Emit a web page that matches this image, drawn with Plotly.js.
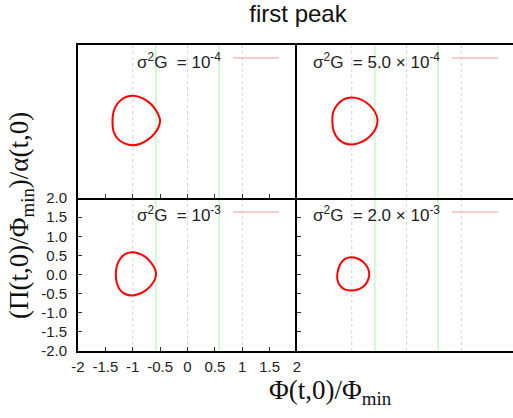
<!DOCTYPE html>
<html>
<head>
<meta charset="utf-8">
<script src="https://cdn.plot.ly/plotly-3.0.1.min.js"></script>
<style>
  html, body { margin: 0; padding: 0; background: #fff; }
  #chart { width: 513px; height: 418px; }
</style>
</head>
<body>
<div id="chart"></div>
<script>
// Phase-space orbits (field vs. momentum) around the minimum at Φ = -Φ_min,
// one panel per coupling σ²G.

// Reference lines: minima / maximum of the potential, and its inflection points
const potentialExtrema = [-1, 0, 1];
const inflectionPoints = [-0.577, 0.577];

// Tick labels
const xTickVals = [-2, -1.5, -1, -0.5, 0, 0.5, 1, 1.5, 2];
const xTickText = ['-2', '-1.5', '-1', '-0.5', '0', '0.5', '1', '1.5', '2'];
const yTickVals = [-2, -1.5, -1, -0.5, 0, 0.5, 1, 1.5, 2];
const yTickText = ['-2.0', '-1.5', '-1.0', '-0.5', '0.0', '0.5', '1.0', '1.5', '2.0'];

// Panel labels
const couplingLabels = [
  'σ<sup>2</sup>G\u00a0 = 10<sup>-4</sup>',
  'σ<sup>2</sup>G\u00a0 = 5.0 × 10<sup>-4</sup>',
  'σ<sup>2</sup>G\u00a0 = 10<sup>-3</sup>',
  'σ<sup>2</sup>G\u00a0 = 2.0 × 10<sup>-3</sup>'
];

// Orbits: Φ(t,0)/Φ_min and (Π(t,0)/Φ_min)/α(t,0)
const phiG1e4 = [-1.00, -0.86, -0.72, -0.61, -0.53, -0.50, -0.53, -0.61, -0.73, -0.86, -1.00, -1.14, -1.27, -1.35, -1.37, -1.35, -1.28, -1.16, -1.00];
const piG1e4  = [ 0.67,  0.63,  0.52,  0.36,  0.17,  0.02, -0.15, -0.33, -0.48, -0.58, -0.62, -0.58, -0.46, -0.26,  0.00,  0.26,  0.47,  0.62,  0.67];

const phiG5e4 = [-1.00, -0.86, -0.73, -0.62, -0.55, -0.53, -0.55, -0.62, -0.73, -0.86, -1.00, -1.13, -1.25, -1.33, -1.355, -1.34, -1.27, -1.15, -1.00];
const piG5e4  = [ 0.63,  0.59,  0.49,  0.34,  0.17,  0.03, -0.14, -0.31, -0.46, -0.56, -0.60, -0.57, -0.45, -0.25,  0.00,  0.24,  0.43,  0.58,  0.63];

const phiG1e3 = [-1.02, -0.89, -0.77, -0.67, -0.60, -0.575, -0.60, -0.67, -0.77, -0.89, -1.02, -1.14, -1.23, -1.29, -1.31, -1.29, -1.23, -1.14, -1.02];
const piG1e3  = [ 0.58,  0.55,  0.46,  0.32,  0.16,  0.02, -0.14, -0.29, -0.42, -0.51, -0.55, -0.51, -0.41, -0.22,  0.00,  0.22,  0.41,  0.53,  0.58];

const phiG2e3 = [-1.02, -0.90, -0.79, -0.71, -0.68, -0.71, -0.79, -0.90, -1.02, -1.13, -1.21, -1.26, -1.26, -1.21, -1.13, -1.02];
const piG2e3  = [ 0.45,  0.42,  0.33,  0.18,  0.01, -0.17, -0.32, -0.40, -0.42, -0.39, -0.30, -0.15,  0.05,  0.27,  0.40,  0.45];

// ---- layout geometry (pixels of a 513 x 418 page) ----
const W = 513, H = 418;
const px = v => v / W;          // horizontal pixel -> paper
const py = v => 1 - v / H;      // vertical pixel -> paper

const leftX0 = 78, midX = 297, rightX1 = W;
const topY0 = 45, midY = 198, botY1 = 351;
const unitPx = (midX - leftX0) / 4;                   // pixels per unit on the Φ axis
const rightRangeMax = -2 + (rightX1 - midX) / unitPx; // right panels run off the page edge

const tickFont = { family: 'Liberation Sans, Arial, sans-serif', size: 15, color: '#222' };
const serif = 'Liberation Serif, Times New Roman, serif';

function xAxis(domain, range, opts) {
  return Object.assign({
    domain: domain, range: range, fixedrange: true,
    showgrid: false, zeroline: false,
    showline: true, linecolor: '#000', linewidth: 2, mirror: false,
    tickvals: xTickVals, ticktext: xTickText,
    ticks: '', ticklen: 4, tickwidth: 1, tickcolor: '#333',
    showticklabels: false, tickfont: tickFont
  }, opts || {});
}
function yAxis(domain, opts) {
  return Object.assign({
    domain: domain, range: [-2, 2], fixedrange: true,
    showgrid: false, zeroline: false,
    showline: true, linecolor: '#000', linewidth: 2, mirror: false,
    tickvals: yTickVals, ticktext: yTickText,
    ticks: '', ticklen: 4, tickwidth: 1, tickcolor: '#333',
    showticklabels: false, tickfont: tickFont
  }, opts || {});
}

const xLeft = [px(leftX0), px(midX)];
const xRight = [px(midX), 1];
const yTop = [py(midY), py(topY0)];
const yBot = [py(botY1), py(midY)];

const panels = [
  { ax: '',  phi: phiG1e4, pi: piG1e4, label: couplingLabels[0] },
  { ax: '2', phi: phiG5e4, pi: piG5e4, label: couplingLabels[1] },
  { ax: '3', phi: phiG1e3, pi: piG1e3, label: couplingLabels[2] },
  { ax: '4', phi: phiG2e3, pi: piG2e3, label: couplingLabels[3] }
];

const traces = panels.map(p => ({
  type: 'scatter', mode: 'lines',
  x: p.phi, y: p.pi,
  xaxis: 'x' + p.ax, yaxis: 'y' + p.ax,
  line: { color: '#ff0000', width: 2, shape: 'spline', smoothing: 1 },
  hoverinfo: 'skip', showlegend: false
}));

const shapes = [];
panels.forEach(p => {
  potentialExtrema.forEach(v => shapes.push({
    type: 'line', layer: 'below',
    xref: 'x' + p.ax, yref: 'y' + p.ax + ' domain',
    x0: v, x1: v, y0: 0, y1: 1,
    line: { color: 'rgb(208,208,248)', width: 1, dash: 'dot' }
  }));
  inflectionPoints.forEach(v => shapes.push({
    type: 'line', layer: 'below',
    xref: 'x' + p.ax, yref: 'y' + p.ax + ' domain',
    x0: v, x1: v, y0: 0, y1: 1,
    line: { color: 'rgb(175,240,175)', width: 1 }
  }));
});

// key samples and labels, one per panel
const keySpots = [
  { x0: 233, x1: 279, y: 58,  tx: 223, ty: 61 },
  { x0: 452, x1: 498, y: 58,  tx: 442, ty: 61 },
  { x0: 233, x1: 279, y: 212, tx: 223, ty: 214 },
  { x0: 452, x1: 498, y: 212, tx: 442, ty: 214 }
];
const annotations = [];
keySpots.forEach((k, i) => {
  shapes.push({
    type: 'line', xref: 'paper', yref: 'paper',
    x0: px(k.x0), x1: px(k.x1), y0: py(k.y), y1: py(k.y),
    line: { color: 'rgb(255,150,150)', width: 1 }
  });
  annotations.push({
    xref: 'paper', yref: 'paper', x: px(k.tx), y: py(k.ty),
    xanchor: 'right', yanchor: 'middle', showarrow: false,
    text: panels[i].label,
    font: { family: 'Liberation Sans, Arial, sans-serif', size: 17, color: '#222' }
  });
});

// axis titles
annotations.push({
  xref: 'paper', yref: 'paper', x: px(330), y: py(392),
  xanchor: 'center', yanchor: 'middle', showarrow: false,
  text: 'Φ(t,0)/Φ<sub>min</sub>',
  font: { family: serif, size: 27, color: '#111' }
});
annotations.push({
  xref: 'paper', yref: 'paper', x: px(21), y: py(216),
  xanchor: 'center', yanchor: 'middle', showarrow: false, textangle: -90,
  text: '(Π(t,0)/Φ<sub>min</sub>)/α(t,0)',
  font: { family: serif, size: 27, color: '#111' }
});

const layout = {
  width: W, height: H,
  margin: { l: 0, r: 0, t: 0, b: 0 },
  paper_bgcolor: '#fff', plot_bgcolor: 'rgba(0,0,0,0)',
  showlegend: false,
  title: {
    text: 'first peak', x: px(298), xanchor: 'center',
    y: py(14), yanchor: 'middle',
    font: { family: 'Liberation Sans, Arial, sans-serif', size: 24, color: '#111' }
  },
  // top-left: frame on left, top and bottom; ticks along its lower edge
  xaxis:  xAxis(xLeft, [-2, 2], { anchor: 'y', mirror: true, ticks: 'inside' }),
  yaxis:  yAxis(yTop, { anchor: 'x' }),
  // top-right: frame on top, bottom and left
  xaxis2: xAxis(xRight, [-2, rightRangeMax], { anchor: 'y2', mirror: true }),
  yaxis2: yAxis(yTop, { anchor: 'x2' }),
  // bottom-left: labelled axes
  xaxis3: xAxis(xLeft, [-2, 2], { anchor: 'y3', ticks: 'inside', showticklabels: true, ticklabelstandoff: 1 }),
  yaxis3: yAxis(yBot, { anchor: 'x3', ticks: 'inside', showticklabels: true, ticklabelstandoff: 6 }),
  // bottom-right: ticks along its left edge
  xaxis4: xAxis(xRight, [-2, rightRangeMax], { anchor: 'y4' }),
  yaxis4: yAxis(yBot, { anchor: 'x4', ticks: 'inside' }),
  shapes: shapes,
  annotations: annotations
};

Plotly.newPlot('chart', traces, layout, { staticPlot: true, displayModeBar: false });
</script>
</body>
</html>
